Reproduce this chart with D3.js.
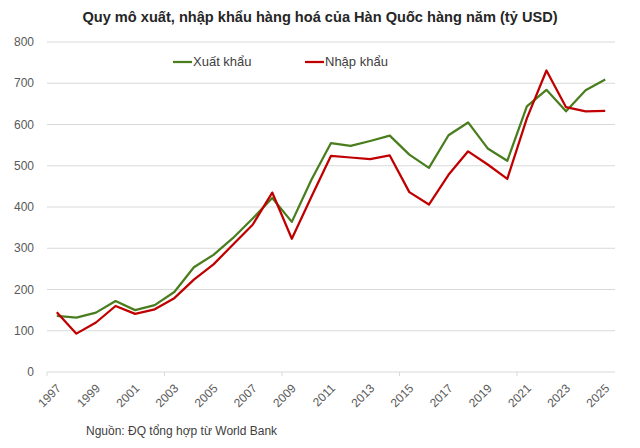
<!DOCTYPE html>
<html>
<head>
<meta charset="utf-8">
<script src="https://cdn.jsdelivr.net/npm/d3@7"></script>
<style>
  body { margin: 0; background: #fff; }
  svg { display: block; font-family: "Liberation Sans Narrow", "Liberation Sans", Arial, sans-serif; }
</style>
</head>
<body>
<svg width="640" height="448"></svg>
<script>
const years = d3.range(1997, 2026);
const exports = [136, 132, 144, 172, 150, 162, 194, 254, 284, 325, 372, 422, 364, 466, 555, 548, 560, 573, 527, 495, 574, 605, 542, 512, 644, 684, 632, 683, 709];
const imports = [145, 93, 120, 160, 141, 152, 179, 224, 261, 309, 357, 435, 323, 425, 524, 520, 516, 525, 436, 406, 478, 535, 503, 468, 615, 731, 642, 632, 633];
const yTicks = [0, 100, 200, 300, 400, 500, 600, 700, 800];
const seriesNames = ["Xuất khẩu", "Nhập khẩu"];
const colors = ["#4a7d1e", "#c00000"];

const svg = d3.select("svg");
const margin = { left: 47, right: 25, top: 42, bottom: 76 };
const width = 640, height = 448;

const x = d3.scaleBand()
  .domain(years)
  .range([margin.left, width - margin.right]);

const y = d3.scaleLinear()
  .domain([0, 800])
  .range([height - margin.bottom, margin.top]);

// gridlines
svg.append("g")
  .selectAll("line")
  .data(yTicks)
  .enter()
  .append("line")
  .attr("x1", margin.left)
  .attr("x2", width - margin.right)
  .attr("y1", d => y(d))
  .attr("y2", d => y(d))
  .attr("stroke", "#d9d9d9")
  .attr("stroke-width", 1);

// y labels
svg.append("g")
  .selectAll("text")
  .data(yTicks)
  .enter()
  .append("text")
  .attr("x", 34)
  .attr("y", d => y(d) + 4)
  .attr("text-anchor", "end")
  .attr("font-family", "Liberation Sans, Arial, sans-serif")
  .attr("font-size", 12)
  .attr("fill", "#595959")
  .text(d => d);

// x tick marks every 6 categories
const step = x.step();
svg.append("g")
  .selectAll("line")
  .data(d3.range(0, years.length, 6))
  .enter()
  .append("line")
  .attr("x1", i => margin.left + i * step)
  .attr("x2", i => margin.left + i * step)
  .attr("y1", y(0))
  .attr("y2", y(0) + 4)
  .attr("stroke", "#d9d9d9");

// x labels
svg.append("g")
  .selectAll("text")
  .data(years.filter((d, i) => i % 2 === 0))
  .enter()
  .append("text")
  .attr("transform", d => `translate(${x(d) + x.bandwidth() / 2 + 5},${y(0) + 17}) rotate(-45)`)
  .attr("text-anchor", "end")
  .attr("font-family", "Liberation Sans, Arial, sans-serif")
  .attr("font-size", 12)
  .attr("fill", "#595959")
  .text(d => d);

// lines
const line = d3.line()
  .x((d, i) => x(years[i]) + x.bandwidth() / 2)
  .y(d => y(d));

[exports, imports].forEach((s, k) => {
  svg.append("path")
    .datum(s)
    .attr("fill", "none")
    .attr("stroke", colors[k])
    .attr("stroke-width", 2.25)
    .attr("stroke-linejoin", "round")
    .attr("d", line);
});

// legend
const legendX = [173, 305];
seriesNames.forEach((name, k) => {
  svg.append("line")
    .attr("x1", legendX[k])
    .attr("x2", legendX[k] + 19)
    .attr("y1", 62)
    .attr("y2", 62)
    .attr("stroke", colors[k])
    .attr("stroke-width", 2.25);
  svg.append("text")
    .attr("x", legendX[k] + 20)
    .attr("y", 66)
    .attr("font-size", 13)
    .attr("fill", "#404040")
    .text(name);
});

// title
svg.append("text")
  .attr("x", 320)
  .attr("y", 22)
  .attr("text-anchor", "middle")
  .attr("font-size", 14.6)
  .attr("font-weight", "bold")
  .attr("fill", "#262626")
  .text("Quy mô xuất, nhập khẩu hàng hoá của Hàn Quốc hàng năm (tỷ USD)");

// source
svg.append("text")
  .attr("x", 86)
  .attr("y", 435)
  .attr("font-size", 12)
  .attr("fill", "#404040")
  .text("Nguồn: ĐQ tổng hợp từ World Bank");
</script>
</body>
</html>
